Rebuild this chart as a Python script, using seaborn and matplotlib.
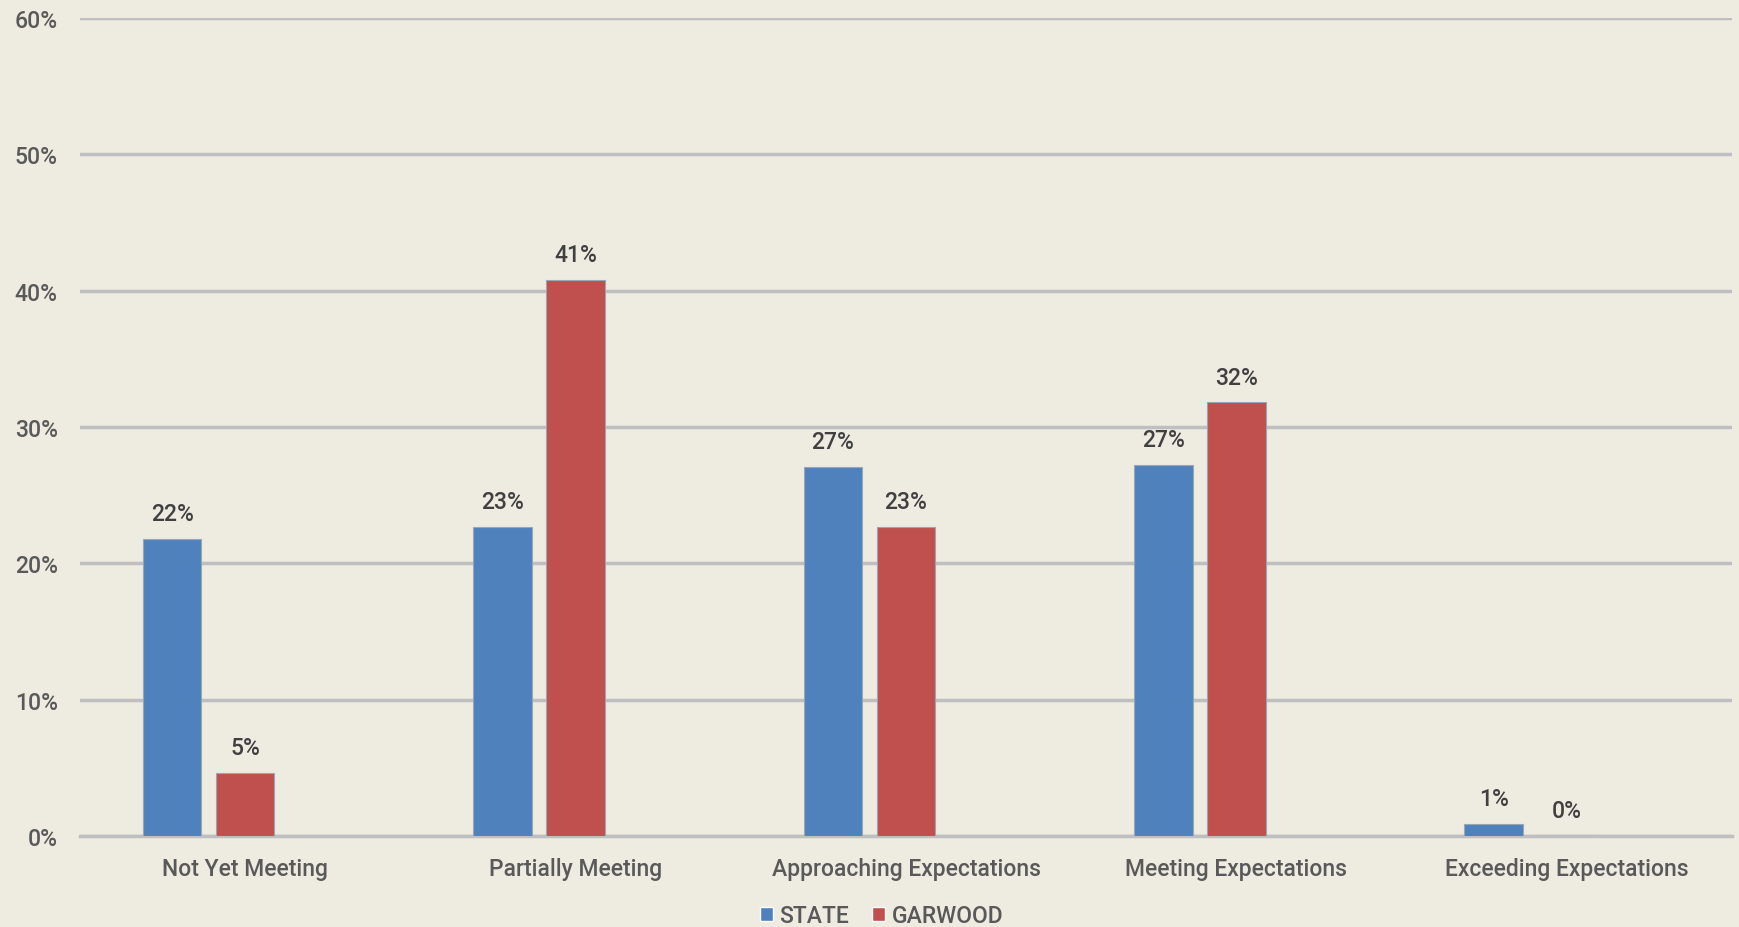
import pandas as pd
import numpy as np
import seaborn as sns
import matplotlib.pyplot as plt
from matplotlib.patches import Patch

# data
categories = ['Not Yet Meeting', 'Partially Meeting', 'Approaching Expectations',
              'Meeting Expectations', 'Exceeding Expectations']
state = [21.8, 22.7, 27.1, 27.2, 0.9]
garwood = [4.6, 40.8, 22.7, 31.8, 0.0]
series = ['STATE', 'GARWOOD']
colors = ['#4F81BD', '#C0504D']

df = pd.DataFrame({
    'cat': categories * 2,
    'series': ['STATE'] * len(categories) + ['GARWOOD'] * len(categories),
    'value': state + garwood,
})

sns.set_style('white')
plt.rcParams['font.family'] = ['Roboto', 'DejaVu Sans']

bg = '#EEECE1'
fs = 16.5
fig = plt.figure(figsize=(17.39, 9.28), dpi=100, facecolor=bg)
ax = fig.add_axes([0.046, 0.098, 0.95, 0.8815])
ax.set_facecolor(bg)

# third (empty) series keeps the Excel-style offset of the bar pairs
hue_order = series + ['blank']
palette = {'STATE': colors[0], 'GARWOOD': colors[1], 'blank': bg}
sns.barplot(data=df, x='cat', y='value', hue='series', hue_order=hue_order,
            palette=palette, saturation=1, order=categories, width=0.664, gap=0.2,
            edgecolor='#9aa6b5', linewidth=0.8, ax=ax, legend=False, zorder=3)

for cont in ax.containers:
    ax.bar_label(cont, labels=[f'{round(v):.0f}%' for v in cont.datavalues],
                 padding=10, fontsize=fs, color='#404040', fontweight='medium')

ax.set_ylim(0, 60)
ax.set_xlim(-0.5, 4.5)
ax.set_yticks(range(0, 61, 10))
ax.set_yticklabels([f'{t}%' for t in range(0, 61, 10)], fontsize=fs,
                   color='#595959', fontweight='medium')
for lab in ax.get_xticklabels():
    lab.set_fontweight('medium')
ax.tick_params(axis='x', labelsize=fs, labelcolor='#595959', length=0, pad=15)
ax.tick_params(axis='y', length=0, pad=16)
ax.yaxis.grid(True, color='#BFBFBF', linewidth=2.5, zorder=0)
ax.set_axisbelow(True)
for s in ['top', 'right', 'left']:
    ax.spines[s].set_visible(False)
ax.spines['bottom'].set_color('#BFBFBF')
ax.spines['bottom'].set_linewidth(2.5)
ax.set_xlabel('')
ax.set_ylabel('')

handles = [Patch(facecolor=c, label=s) for s, c in zip(series, colors)]
fig.legend(handles=handles, loc='lower center', bbox_to_anchor=(0.507, -0.022), ncol=2,
           frameon=False, prop={'size': fs, 'weight': 'medium'}, labelcolor='#595959',
           handlelength=0.55, handleheight=0.55, handletextpad=0.3, columnspacing=1.0)

fig.savefig('out.png', dpi=100, facecolor=bg)
